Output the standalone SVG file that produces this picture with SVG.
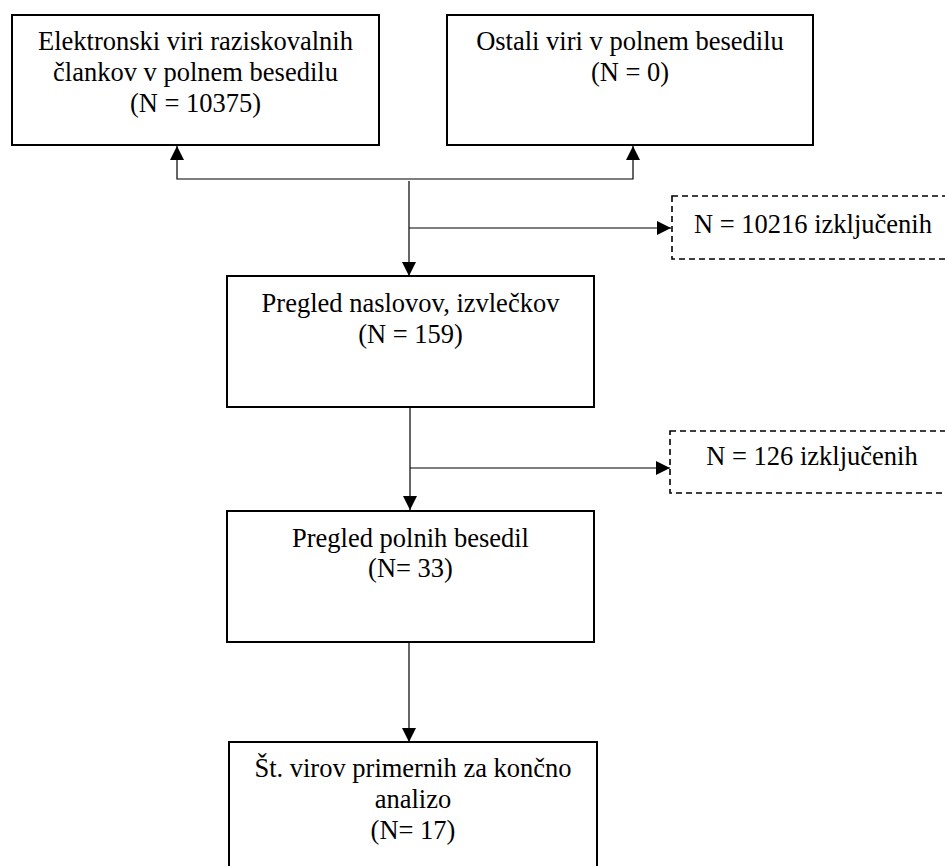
<svg xmlns="http://www.w3.org/2000/svg" width="945" height="866" viewBox="0 0 945 866">
<style>
.box{fill:#fff;stroke:#000;stroke-width:2}
.dash{fill:#fff;stroke:#000;stroke-width:1.6;stroke-dasharray:6 4}
text{font-family:'Liberation Serif','Times New Roman','DejaVu Serif',serif;font-size:26.5px;fill:#000;text-anchor:middle}
.c{fill:none;stroke:#000;stroke-width:1.2}
</style>
<defs>
<marker id="ah" viewBox="0 0 14 14" refX="14" refY="7" markerWidth="14" markerHeight="14" markerUnits="userSpaceOnUse" orient="auto">
<path d="M0,0 L14,7 L0,14 Z" fill="#000"/>
</marker>
</defs>
<g id="connectors">
<path class="c" d="M409,179 H177 V146" marker-end="url(#ah)"/>
<path class="c" d="M409,179 H633 V146" marker-end="url(#ah)"/>
<path class="c" d="M409,181 V276" marker-end="url(#ah)"/>
<path class="c" d="M409,228 H671" marker-end="url(#ah)"/>
<path class="c" d="M410,408 V510" marker-end="url(#ah)"/>
<path class="c" d="M410,468 H670" marker-end="url(#ah)"/>
<path class="c" d="M409,642 V742" marker-end="url(#ah)"/>
</g>
<g id="n1">
<rect class="box" x="12" y="15" width="367" height="130"/>
<text x="195.5" y="50" font-family="Liberation Serif, serif">Elektronski viri raziskovalnih</text>
<text x="195.5" y="81" font-family="Liberation Serif, serif">člankov v polnem besedilu</text>
<text x="195.5" y="112" font-family="Liberation Serif, serif">(N = 10375)</text>
</g>
<g id="n2">
<rect class="box" x="447" y="15" width="366" height="130"/>
<text x="630" y="50">Ostali viri v polnem besedilu</text>
<text x="630" y="81">(N = 0)</text>
</g>
<g id="x1">
<rect class="dash" x="672" y="196" width="300" height="63"/>
<text x="813" y="233">N = 10216 izključenih</text>
</g>
<g id="n3">
<rect class="box" x="227" y="276" width="367" height="131"/>
<text x="410.5" y="312">Pregled naslovov, izvlečkov</text>
<text x="410.5" y="343">(N = 159)</text>
</g>
<g id="x2">
<rect class="dash" x="670" y="431" width="300" height="62"/>
<text x="812" y="465">N = 126 izključenih</text>
</g>
<g id="n4">
<rect class="box" x="227" y="511" width="367" height="131"/>
<text x="410.5" y="547">Pregled polnih besedil</text>
<text x="410.5" y="577">(N= 33)</text>
</g>
<g id="n5">
<rect class="box" x="229" y="742" width="368" height="140"/>
<text x="413" y="777">Št. virov primernih za končno</text>
<text x="413" y="808">analizo</text>
<text x="413" y="839">(N= 17)</text>
</g>
</svg>
